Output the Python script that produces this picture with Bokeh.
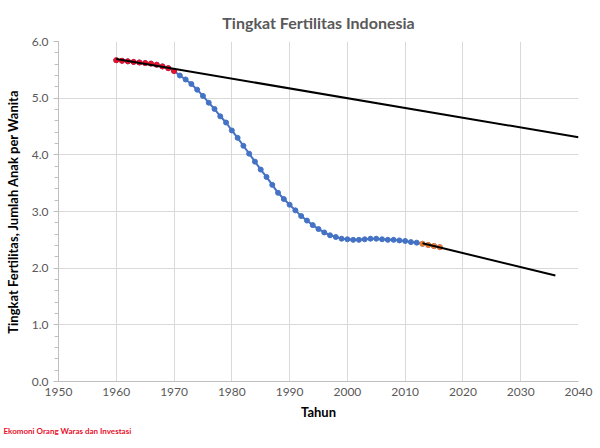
from bokeh.plotting import figure
from bokeh.models import Range1d, FixedTicker, NumeralTickFormatter, Title
from bokeh.embed import file_html
from bokeh.resources import INLINE

# Data
years = list(range(1960, 2017))
tfr = [5.67, 5.66, 5.65, 5.64, 5.63, 5.62, 5.61, 5.59, 5.56, 5.53,
       5.48, 5.40, 5.33, 5.25, 5.15, 5.04, 4.92, 4.81, 4.68, 4.57,
       4.43, 4.30, 4.16, 4.02, 3.88, 3.74, 3.61, 3.47, 3.33, 3.22,
       3.12, 3.02, 2.92, 2.84, 2.76, 2.69, 2.63, 2.58, 2.55, 2.52,
       2.51, 2.50, 2.50, 2.51, 2.52, 2.52, 2.51, 2.50, 2.50, 2.49,
       2.48, 2.46, 2.45, 2.43, 2.41, 2.39, 2.37]
early_years = list(range(1960, 1971))
early_tfr = tfr[:11]
late_years = list(range(2013, 2017))
late_tfr = tfr[-4:]
trend1_years = [1960, 2040]
trend1_vals = [5.69, 4.31]
trend2_years = [2013, 2036]
trend2_vals = [2.44, 1.87]
x_ticks = list(range(1950, 2041, 10))
y_ticks = [0, 1, 2, 3, 4, 5, 6]

FONT = "Lato"
p = figure(width=600, height=448, output_backend="svg", toolbar_location=None,
           x_range=Range1d(1950, 2040), y_range=Range1d(0, 6),
           min_border_left=58, min_border_right=22, min_border_top=41, min_border_bottom=67,
           title="Tingkat Fertilitas Indonesia")
p.outline_line_color = None
p.title.align = "center"
p.title.text_font = FONT
p.title.text_font_size = "16px"
p.title.text_font_style = "bold"
p.title.text_color = "#595959"
p.title.standoff = 20

p.xgrid.grid_line_color = "#D9D9D9"
p.ygrid.grid_line_color = "#D9D9D9"

p.xaxis.ticker = FixedTicker(ticks=x_ticks)
p.yaxis.ticker = FixedTicker(ticks=y_ticks, minor_ticks=[i * 0.2 for i in range(31)])
p.yaxis.formatter = NumeralTickFormatter(format="0.0")
for ax in (p.xaxis, p.yaxis):
    ax.axis_line_color = "#BFBFBF"
    ax.major_tick_line_color = "#BFBFBF"
    ax.minor_tick_line_color = "#BFBFBF"
    ax.major_label_text_font = FONT
    ax.major_label_text_font_size = "12px"
    ax.major_label_text_color = "#595959"
    ax.axis_label_text_font = FONT
    ax.axis_label_text_font_size = "13px"
    ax.axis_label_text_font_style = "bold"
    ax.axis_label_text_color = "#000000"
p.xaxis.major_tick_out = 0
p.xaxis.major_tick_in = 0
p.xaxis.minor_tick_out = 0
p.xaxis.major_label_standoff = 6
p.xaxis.axis_label = "Tahun"
p.xaxis.axis_label_standoff = 5
p.yaxis.major_tick_out = 5
p.yaxis.major_tick_in = 0
p.yaxis.minor_tick_out = 4
p.yaxis.minor_tick_in = 0
p.yaxis.major_label_standoff = 5
p.yaxis.axis_label = "Tingkat Fertilitas, Jumlah Anak per Wanita"
p.yaxis.axis_label_standoff = 8

blue = "#4472C4"
p.line(years, tfr, line_color=blue, line_width=2)
p.scatter(years, tfr, size=5, fill_color=blue, line_color=blue)
p.scatter(early_years, early_tfr, size=5, fill_color="#E8102A", line_color="#E8102A")
p.scatter(late_years, late_tfr, size=5, fill_color="#ED7D31", line_color="#ED7D31")
p.line(trend1_years, trend1_vals, line_color="black", line_width=2)
p.line(trend2_years, trend2_vals, line_color="black", line_width=2)

footer = Title(text="Ekomoni Orang Waras dan Investasi", align="left", offset=-55,
               text_font=FONT, text_font_size="8px", text_font_style="bold",
               text_color="#E8102A", standoff=2)
p.add_layout(footer, "below")

open("out.html", "w").write(file_html(p, INLINE))
